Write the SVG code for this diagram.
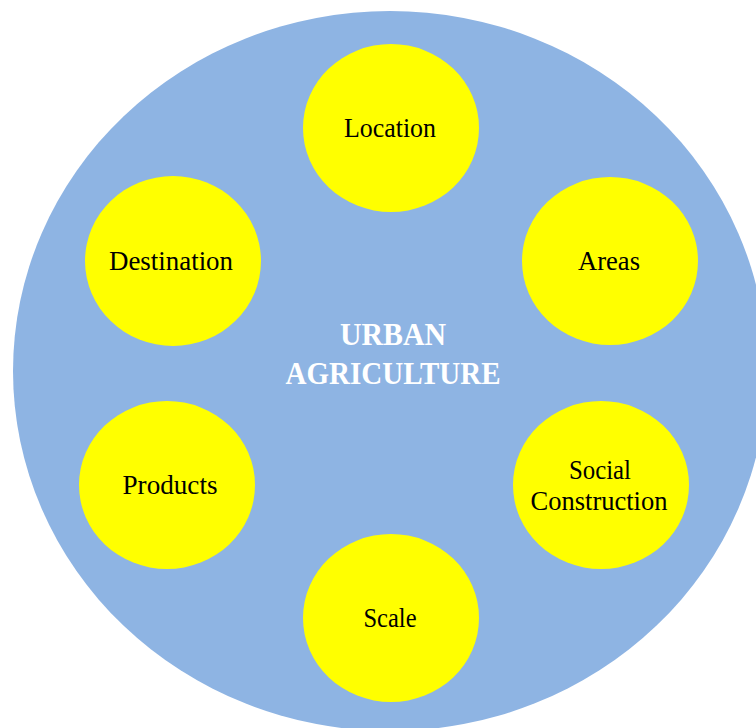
<svg xmlns="http://www.w3.org/2000/svg" width="756" height="728" viewBox="0 0 756 728">
  <style>
    .bubble { fill: #FFFF00; }
    .label { font-family: "Liberation Serif", "Times New Roman", serif; font-size: 27px; fill: #000000; text-anchor: middle; }
    .title { font-family: "Liberation Serif", "Times New Roman", serif; font-size: 31px; font-weight: bold; fill: #FFFFFF; text-anchor: middle; }
  </style>
  <rect width="756" height="728" fill="#FFFFFF"/>
  <!-- outer field -->
  <g id="urban-agriculture">
    <ellipse cx="390" cy="371" rx="377" ry="360" fill="#8EB4E3"/>
    <text class="title" x="393" y="345" textLength="106" lengthAdjust="spacingAndGlyphs">URBAN</text>
    <text class="title" x="393" y="384" textLength="215" lengthAdjust="spacingAndGlyphs">AGRICULTURE</text>
  </g>
  <g id="connectors"></g>
  <g id="location">
    <ellipse class="bubble" cx="391" cy="128" rx="88" ry="84"/>
    <text class="label" x="390" y="137" textLength="92" lengthAdjust="spacingAndGlyphs">Location</text>
  </g>
  <g id="areas">
    <ellipse class="bubble" cx="610" cy="261" rx="88" ry="84"/>
    <text class="label" x="609" y="270" textLength="62" lengthAdjust="spacingAndGlyphs">Areas</text>
  </g>
  <g id="destination">
    <ellipse class="bubble" cx="173" cy="261" rx="88" ry="85"/>
    <text class="label" x="171" y="270" textLength="124" lengthAdjust="spacingAndGlyphs">Destination</text>
  </g>
  <g id="products">
    <ellipse class="bubble" cx="167" cy="485" rx="88" ry="84"/>
    <text class="label" x="170" y="494" textLength="95" lengthAdjust="spacingAndGlyphs">Products</text>
  </g>
  <g id="social-construction">
    <ellipse class="bubble" cx="601" cy="485" rx="88" ry="84"/>
    <text class="label" x="600" y="479" textLength="62" lengthAdjust="spacingAndGlyphs">Social</text>
    <text class="label" x="599" y="510" textLength="137" lengthAdjust="spacingAndGlyphs">Construction</text>
  </g>
  <g id="scale">
    <ellipse class="bubble" cx="391" cy="618" rx="88" ry="84"/>
    <text class="label" x="390" y="627" textLength="53" lengthAdjust="spacingAndGlyphs">Scale</text>
  </g>
</svg>
